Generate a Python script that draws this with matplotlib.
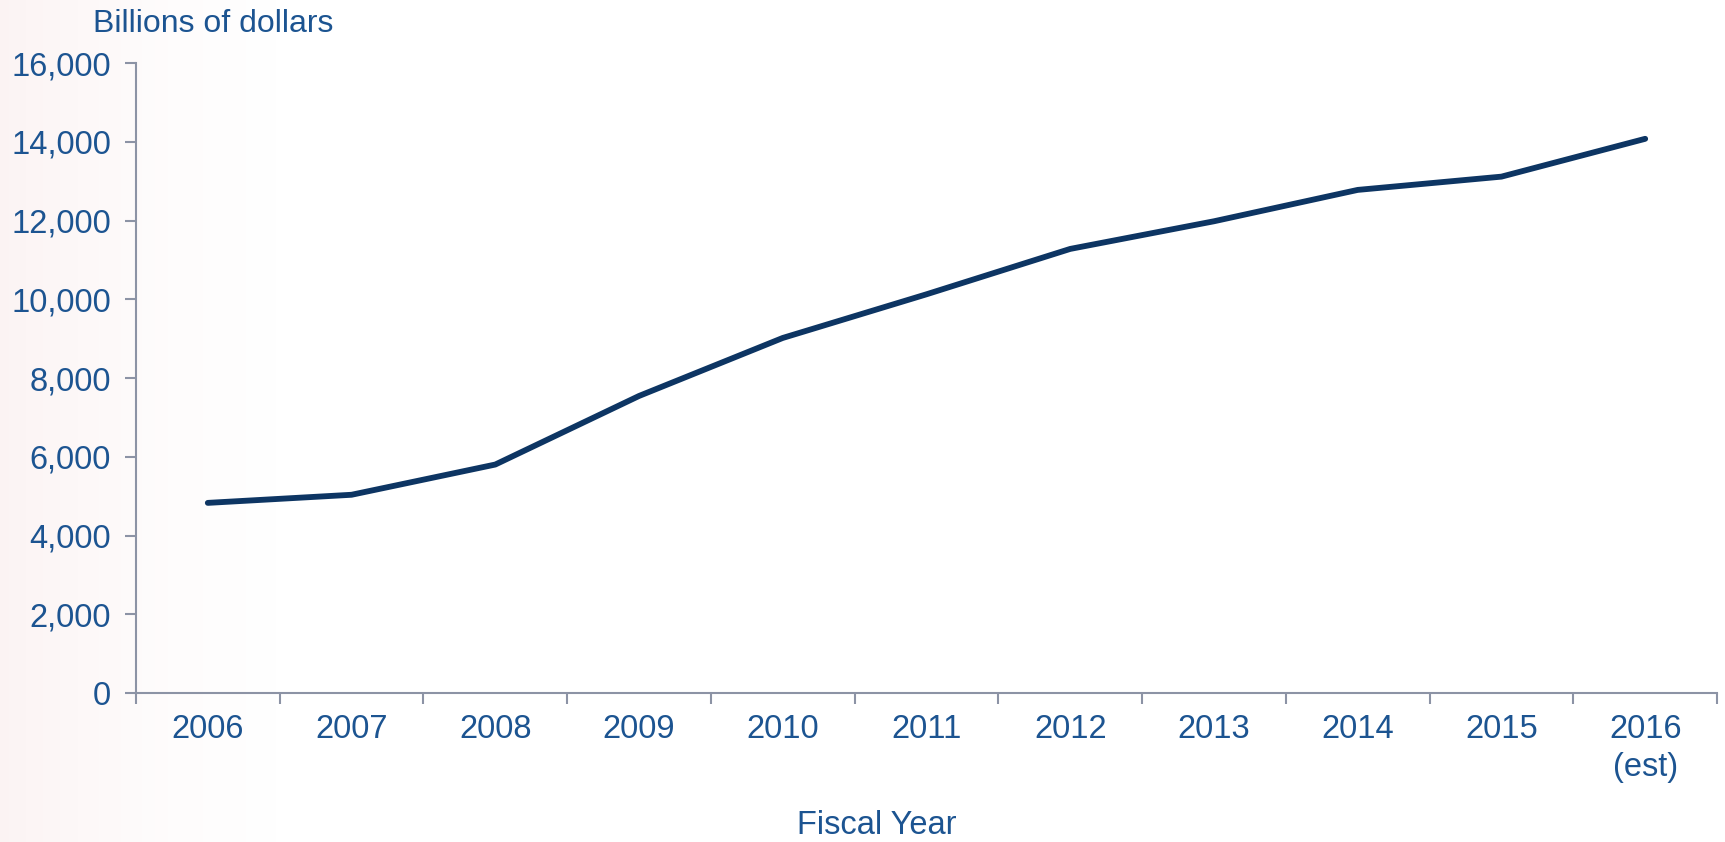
import matplotlib.pyplot as plt
import numpy as np
from matplotlib.ticker import FixedLocator, NullFormatter

years = ['2006', '2007', '2008', '2009', '2010', '2011', '2012', '2013', '2014', '2015', '2016\n(est)']
debt = [4829, 5035, 5803, 7545, 9019, 10128, 11281, 11983, 12780, 13117, 14078]
yticks = [0, 2000, 4000, 6000, 8000, 10000, 12000, 14000, 16000]

txt_col = '#1c5491'
line_col = '#0d3563'
axis_col = '#8c93a5'

plt.rcParams['font.family'] = ['Liberation Sans', 'DejaVu Sans']

fig = plt.figure(figsize=(17.25, 8.42), dpi=100)

# faint pink wash on the left, like the slide background
bg = fig.add_axes([0, 0, 1, 1], zorder=-10)
grad = np.linspace(0, 1, 400)
alpha = np.clip(1 - grad / 0.2, 0, 1) ** 2 * 0.09
img = np.ones((1, 400, 4))
img[..., 0] = 0.85
img[..., 1] = 0.5
img[..., 2] = 0.5
img[..., 3] = alpha
bg.imshow(img, aspect='auto', extent=[0, 1, 0, 1])
bg.axis('off')

ax = fig.add_axes([0.0788, 0.177, 0.9166, 0.748])
ax.patch.set_alpha(0)
x = np.arange(len(years))
ax.plot(x, debt, color=line_col, lw=4.2, solid_capstyle='round', solid_joinstyle='round')

ax.set_xlim(-0.5, len(years) - 0.5)
ax.set_ylim(0, 16000)
ax.set_yticks(yticks)
ax.set_yticklabels([f'{v:,}' for v in yticks])

# ticks between the categories, labels in the middle
ax.xaxis.set_major_locator(FixedLocator(np.arange(-0.5, len(years) + 0.5, 1)))
ax.xaxis.set_major_formatter(NullFormatter())
ax.xaxis.set_minor_locator(FixedLocator(x))
ax.set_xticklabels(years, minor=True)

for s in ['top', 'right']:
    ax.spines[s].set_visible(False)
for s in ['left', 'bottom']:
    ax.spines[s].set_color(axis_col)
    ax.spines[s].set_linewidth(1.5)

ax.tick_params(axis='y', length=8, width=1.5, color=axis_col, labelcolor=txt_col, labelsize=23.5, pad=10)
ax.tick_params(axis='x', which='major', length=8, width=1.5, color=axis_col)
ax.tick_params(axis='x', which='minor', length=0, labelcolor=txt_col, labelsize=23.5, pad=15)
for t in ax.get_xticklabels(minor=True):
    t.set_linespacing(1.3)
    t.set_verticalalignment('top')

fig.text(0.054, 0.972, 'Billions of dollars', color=txt_col, fontsize=23, va='center', ha='left')
fig.text(0.508, 0.02, 'Fiscal Year', color=txt_col, fontsize=23.5, va='center', ha='center')

plt.savefig('out.png', dpi=100)
